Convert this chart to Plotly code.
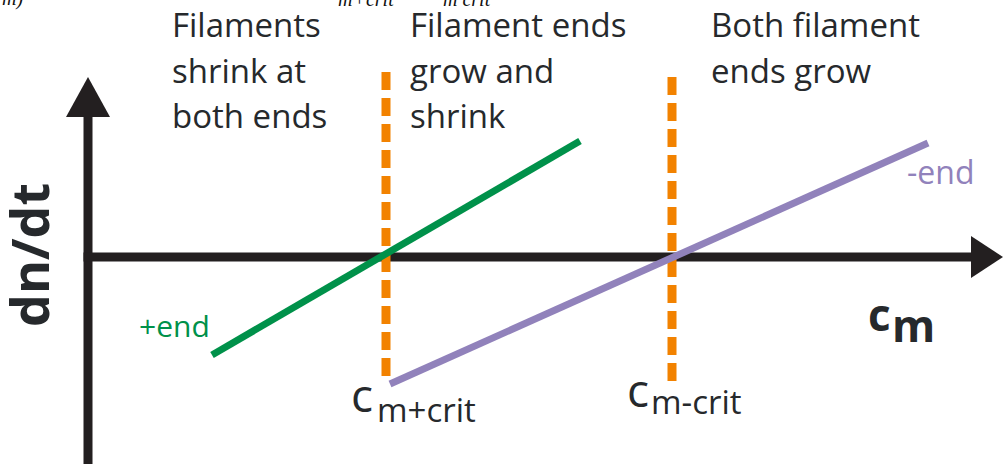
import plotly.graph_objects as go

W, H = 1003, 464

# ---- data (concentration c_m vs growth rate dn/dt, arbitrary units) ----
plus_end_c = [1.24, 4.92]
plus_end_rate = [-0.98, 1.16]
minus_end_c = [3.02, 8.40]
minus_end_rate = [-1.27, 1.14]
crit_names = ["m+crit", "m-crit"]
crit_c = [2.98, 5.84]
crit_rate_low = [-1.27, -1.32]
crit_rate_high = [1.85, 1.80]
region_labels = [
    ["Filaments", "shrink at", "both ends"],
    ["Filament ends", "grow and", "shrink"],
    ["Both filament", "ends grow"],
]

X_RANGE = [-0.88, 9.15]
Y_RANGE = [-2.07, 2.57]

AXIS = "#231f20"
TEXT = "#26292c"
GREEN = "#00914a"
PURPLE = "#9182bb"
ORANGE = "#f28200"
FONT = "Open Sans"


def px(x, y):
    """pixel position -> paper coordinates (layout only)"""
    return x / W, 1 - y / H


fig = go.Figure()

# axes shafts
fig.add_trace(go.Scatter(x=[0, 0], y=[-2.2, 1.45], mode="lines",
                         line=dict(color=AXIS, width=9), hoverinfo="skip"))
fig.add_trace(go.Scatter(x=[-0.045, 8.86], y=[0, 0], mode="lines",
                         line=dict(color=AXIS, width=9), hoverinfo="skip"))
# arrow heads
fig.add_trace(go.Scatter(x=[-0.22, 0, 0.22, -0.22], y=[1.40, 1.80, 1.40, 1.40],
                         mode="lines", fill="toself", fillcolor=AXIS,
                         line=dict(width=0, color=AXIS), hoverinfo="skip"))
fig.add_trace(go.Scatter(x=[8.83, 9.15, 8.83, 8.83], y=[0.21, 0, -0.21, 0.21],
                         mode="lines", fill="toself", fillcolor=AXIS,
                         line=dict(width=0, color=AXIS), hoverinfo="skip"))

# critical concentration dashed lines
for c, lo, hi in zip(crit_c, crit_rate_low, crit_rate_high):
    fig.add_trace(go.Scatter(x=[c, c], y=[hi, lo], mode="lines",
                             line=dict(color=ORANGE, width=9, dash="18px,8px"),
                             hoverinfo="skip"))

# growth lines
fig.add_trace(go.Scatter(x=plus_end_c, y=plus_end_rate, mode="lines",
                         line=dict(color=GREEN, width=7), hoverinfo="skip"))
fig.add_trace(go.Scatter(x=minus_end_c, y=minus_end_rate, mode="lines",
                         line=dict(color=PURPLE, width=7), hoverinfo="skip"))

ann = []


def text(t, x, y, size, color=TEXT, bold=False, xanchor="left", angle=0,
         family=FONT):
    xp, yp = px(x, y)
    ann.append(dict(text=t, x=xp, y=yp, xref="paper", yref="paper",
                    xanchor=xanchor, yanchor="middle", showarrow=False,
                    textangle=angle,
                    font=dict(family=family, size=size, color=color,
                              weight="bold" if bold else "normal")))


# region labels (baseline -> middle: baseline - 0.388*size)
col_x = [170, 408, 709]
base_y = [37, 83, 128]
for cx, lines in zip(col_x, region_labels):
    for i, line in enumerate(lines):
        text(line, cx, base_y[i] - 0.388 * 33, 33)

# line labels
text("+end", 137, 337 - 0.388 * 30, 30, color=GREEN)
text("-end", 905, 184 - 0.388 * 32, 32, color=PURPLE)

# axis titles
text("dn/dt", 29, 255, 52, bold=True, xanchor="center", angle=-90)
text("c", 866, 331 - 0.388 * 44, 44, bold=True)
text("m", 890, 342 - 0.388 * 44, 44, bold=True)

# critical concentration labels
text("c", 349, 412 - 0.388 * 46, 46)
text(crit_names[0], 375, 422 - 0.388 * 33, 33)
text("c", 625, 407 - 0.388 * 46, 46)
text(crit_names[1], 649, 414 - 0.388 * 33, 33)

# clipped fragment of surrounding text at the very top
for t, x in [("m)", 0), ("m+crit", 336), ("m crit", 441)]:
    text("<i>" + t + "</i>", x, 6 - 0.36 * 20, 20, color="#111111",
         family="Liberation Serif")

fig.update_layout(
    width=W, height=H,
    margin=dict(l=0, r=0, t=0, b=0, pad=0, autoexpand=False),
    paper_bgcolor="white", plot_bgcolor="white",
    showlegend=False, hovermode=False,
    xaxis=dict(range=X_RANGE, visible=False, fixedrange=True),
    yaxis=dict(range=Y_RANGE, visible=False, fixedrange=True),
    annotations=ann,
)

fig.write_html("out.html", config={"displayModeBar": False},
               post_script="document.body.style.margin='0';"
                           "document.body.style.overflow='hidden';")
